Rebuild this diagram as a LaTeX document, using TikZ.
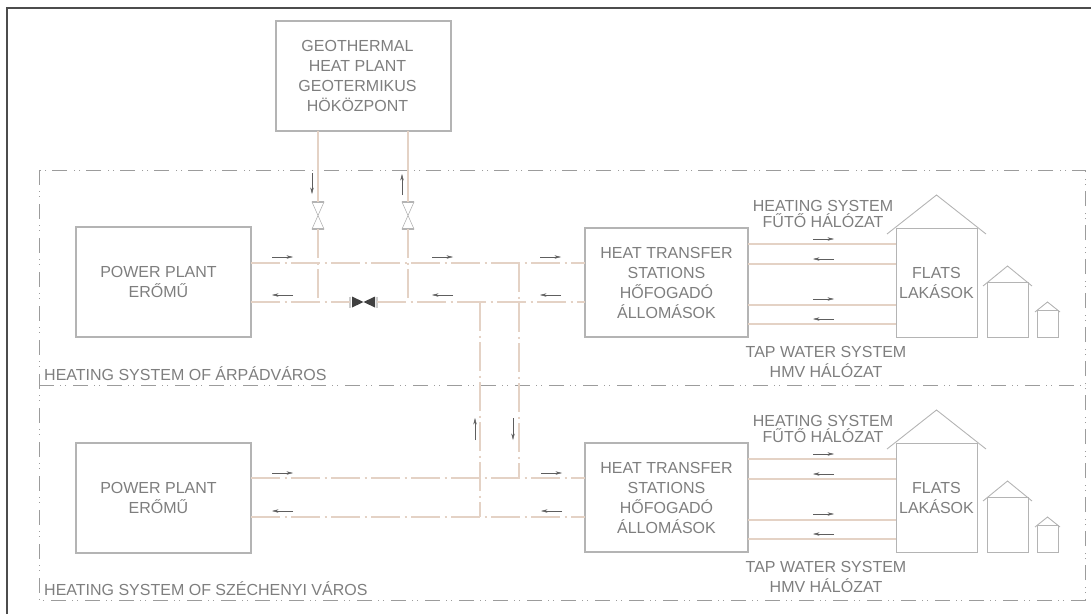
\documentclass[tikz,border=0pt]{standalone}
\usepackage{fontspec}
\setmainfont{Liberation Sans}
\usetikzlibrary{arrows.meta, positioning, calc}

\begin{document}
\begin{tikzpicture}[
    x=1pt, y=-1pt,
    block/.style={rectangle, draw=boxgray, line width=1.1pt, outer sep=0pt, minimum height=110pt},
    caption/.style={font=\fontsize{16}{20}\selectfont, text=textgray, align=center, inner sep=0pt},
    zone/.style={rectangle, outer sep=0pt, minimum width=1046pt, minimum height=215pt},
    zoneline/.style={draw=zonegray, line width=0.9pt, dash pattern=on 15pt off 6pt on 1pt off 4pt on 1pt off 7pt},
    pipe/.style={draw=pipetan, line width=1.4pt, dash pattern=on 29pt off 4.5pt on 2pt off 4.5pt},
    feed/.style={draw=pipetan, line width=1.4pt},
    flow/.style={-{Stealth[length=6.5pt, width=3.4pt]}, draw=flowgray, line width=0.4pt},
    wall/.style={draw=boxgray, line width=0.9pt},
    valve/.style={rectangle, outer sep=0pt, inner sep=0pt, minimum width=12pt, minimum height=27pt}
]
\definecolor{boxgray}{HTML}{B4B4B4}
\definecolor{textgray}{HTML}{7E7E7E}
\definecolor{zonegray}{HTML}{9C9C9C}
\definecolor{pipetan}{HTML}{E4D2C5}
\definecolor{flowgray}{HTML}{5E5E5E}
\useasboundingbox (0,0) rectangle (1091,614);

% outer frame and the two systems
\draw[line width=1.2pt, draw=black!70] (7,614) -- (7,8) -- (1091,8);
\node[zone, anchor=north west] (zoneA) at (39,170) {};
\node[zone, below=0pt of zoneA] (zoneB) {};
\draw[zoneline] (zoneA.north west) rectangle (zoneB.south east);
\draw[zoneline] (zoneA.south west) -- (zoneA.south east);
\node[caption, above right=4pt and 5pt of zoneA.south west, text height=12pt, text depth=0pt] (nameA) {HEATING SYSTEM OF ÁRPÁDVÁROS};
\node[caption, above right=4pt and 5pt of zoneB.south west, text height=12pt, text depth=0pt] (nameB) {HEATING SYSTEM OF SZÉCHENYI VÁROS};

% plants
\node[block, minimum width=175pt, anchor=north west] (geo) at (276,21) {};
\node[caption, xshift=-6pt, text depth=0pt] (geotext) at (geo.center) {GEOTHERMAL\\HEAT PLANT\\GEOTERMIKUS\\HÖKÖZPONT};
\node[block, minimum width=175pt, anchor=north west] (plantA) at (76,227) {};
\node[block, minimum width=175pt, below=106pt of plantA] (plantB) {};
\node[caption, xshift=-5pt] (plantAtext) at (plantA.center) {POWER PLANT\\ERŐMŰ};
\node[caption, xshift=-5pt] (plantBtext) at (plantB.center) {POWER PLANT\\ERŐMŰ};

% valves
\node[valve] (vl) at (318,215.5) {};
\node[valve] (vr) at (408,215.5) {};
\node[valve, minimum width=27pt, minimum height=11pt] (vm) at (363.5,302) {};
\foreach \v in {vl,vr} {
    \draw[wall, line width=0.6pt] (\v.north west) -- (\v.south east) -- (\v.south west) -- (\v.north east) -- cycle;
    \draw[wall, line width=1.4pt] (\v.north west) -- (\v.north east);
    \draw[wall, line width=1.4pt] (\v.south west) -- (\v.south east);
}
\fill[black!75] ($(vm.north west)+(2,0)$) -- ($(vm.south east)+(-2,0)$) -- ($(vm.north east)+(-2,0)$) -- ($(vm.south west)+(2,0)$) -- cycle;
\draw[draw=black!20, line width=1.5pt] (vm.north west) -- (vm.south west);
\draw[draw=black!20, line width=1.5pt] (vm.north east) -- (vm.south east);

% stations and houses of both systems
\foreach \z/\dy in {A/0,B/215} {
    \node[block, minimum width=163pt, minimum height=109pt, anchor=north west] (station\z) at (585,{228+\dy}) {};
    \node[caption, text depth=0pt] (stationtext\z) at (station\z.center) {HEAT TRANSFER\\STATIONS\\HŐFOGADÓ\\ÁLLOMÁSOK};
    \node[block, wall, minimum width=81pt, minimum height=109pt, right=148pt of station\z, caption] (flats\z) {FLATS\\LAKÁSOK};
    \node[wall, outer sep=0pt, minimum width=41pt, minimum height=55pt, above right=0pt and 10pt of flats\z.south east] (mid\z) {};
    \node[wall, outer sep=0pt, minimum width=21pt, minimum height=27pt, above right=0pt and 9pt of mid\z.south east] (small\z) {};
    \foreach \hs/\ov/\dr/\rs in {flats\z/9/6/33, mid\z/4/4/16, small\z/2/2/8}
        \draw[wall] ($(\hs.north west)+(-\ov,\dr)$) -- ($(\hs.north)+(0,-\rs)$) -- ($(\hs.north east)+(\ov,\dr)$);
    \foreach \y in {244,264,305,324}
        \draw[feed] (station\z.east |- 0,{\y+\dy}) -- (flats\z.west |- 0,{\y+\dy});
    \node[caption, font=\fontsize{16}{16.5}\selectfont] (heat\z) at (823,{214+\dy}) {HEATING SYSTEM\\FŰTŐ HÁLÓZAT};
    \node[caption] (tap\z) at (826,{362+\dy}) {TAP WATER SYSTEM\\HMV HÁLÓZAT};
}

% mains
\coordinate (hotA) at (519,263);
\coordinate (coldA) at (480,302);
\coordinate (hotB) at (519,478);
\coordinate (coldB) at (480,517);
\draw[feed] (vl.north) -- (vl.north |- geo.south);
\draw[feed] (vr.north) -- (vr.north |- geo.south);
\draw[pipe] (vl.south) -- (vl.south |- coldA);
\draw[pipe] (vr.south) -- (vr.south |- coldA);
\draw[pipe] (plantA.east |- hotA) -- (stationA.west |- hotA);
\draw[pipe] (plantA.east |- coldA) -- (vm.west);
\draw[pipe] (vm.east) -- (stationA.west |- coldA);
\draw[pipe] (plantB.east |- hotB) -- (stationB.west |- hotB);
\draw[pipe] (plantB.east |- coldB) -- (stationB.west |- coldB);
\draw[pipe] (hotA) -- (hotB);
\draw[pipe] (coldA) -- (coldB);

% flow arrows
\foreach \x/\y in {272/257, 432/257, 540/257, 272/473, 541/473, 813/239, 813/299, 813/454, 813/514} {
    \coordinate (fa) at (\x,\y);
    \draw[flow] (fa) -- ++(21,0);
}
\foreach \x/\y in {293/295, 453/295, 561/295, 293/511, 562/511, 834/259, 834/319, 834/474, 834/534} {
    \coordinate (fa) at (\x,\y);
    \draw[flow] (fa) -- ++(-21,0);
}
\coordinate (fv) at (312,173);
\draw[flow] (fv) -- ++(0,21);
\coordinate (fv) at (402,195);
\draw[flow] (fv) -- ++(0,-21);
\coordinate (fv) at (475,440);
\draw[flow] (fv) -- ++(0,-22);
\coordinate (fv) at (513,418);
\draw[flow] (fv) -- ++(0,22);

\end{tikzpicture}
\end{document}
